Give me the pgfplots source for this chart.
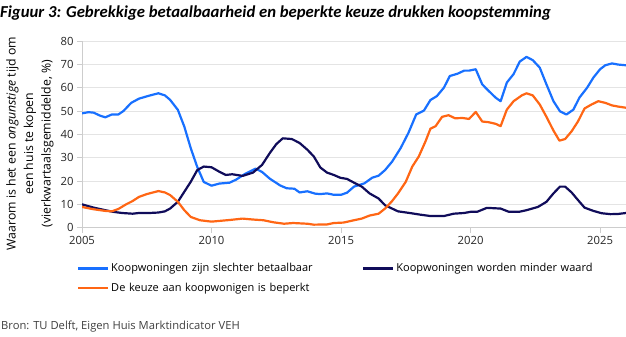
\documentclass[border=0pt]{standalone}
\usepackage{fontspec}
\setmainfont{Open Sans}
\newfontfamily\titlefont{Carlito}
\usepackage{pgfplots}
\pgfplotsset{compat=1.18}
\definecolor{cblue}{RGB}{24,112,255}
\definecolor{cnavy}{RGB}{16,12,90}
\definecolor{corange}{RGB}{255,102,20}
\definecolor{gridc}{RGB}{228,228,228}
\definecolor{axc}{RGB}{205,205,205}
\begin{document}
\begin{tikzpicture}[x=1pt,y=1pt]
\useasboundingbox (0,0) rectangle (626,337);
\begin{axis}[
  at={(82pt,109.3pt)}, anchor=south west,
  scale only axis, width=544pt, height=186.7pt,
  xmin=2005, xmax=2026, ymin=0, ymax=80,
  xtick={2005,2010,2015,2020,2025},
  ytick={0,10,...,80},
  /pgf/number format/assume math mode=true,
  xticklabel={\pgfmathprintnumber[1000 sep=]{\tick}},
  tick label style={font=\fontsize{11.3}{13}\selectfont, text=black!85},
  axis x line*=bottom, axis y line*=left,
  axis line style={axc, line width=0.8pt, -},
  tick style={axc, line width=0.8pt},
  tick align=outside, major tick length=5pt,
  ymajorgrids, grid style={gridc, line width=0.9pt},
  ylabel={Waarom is het een \textit{ongunstige} tijd om\\een huis te kopen\\(vierkwartaalsgemiddelde, \%)},
  ylabel style={align=center, font=\fontsize{12.3}{17.5}\selectfont, at={(axis description cs:-0.0956,0.45)}, anchor=center},
  legend columns=2,
  legend cell align=left,
  legend style={draw=none, fill=none, at={(axis description cs:-0.015,-0.17)}, anchor=north west,
    font=\fontsize{11}{13}\selectfont, row sep=5.5pt,
    /tikz/every even column/.append style={text width=249pt}},
  legend image code/.code={\draw[#1] (0pt,0pt) -- (30pt,0pt);},
  every axis plot/.append style={line width=2.2pt, line join=round},
]
\addplot[cblue] coordinates {
(2005.0,49) (2005.25,49.5) (2005.45,49.3) (2005.7,48) (2005.9,47.3) (2006.15,48.5) (2006.4,48.5) (2006.6,50) (2006.9,53.5) (2007.2,55.3) (2007.6,56.6) (2007.95,57.6) (2008.2,56.7) (2008.4,54.8) (2008.7,50.5) (2008.95,43.3) (2009.2,34) (2009.45,26) (2009.7,19.6) (2010.0,18) (2010.3,18.9) (2010.7,19.3) (2010.95,20.6) (2011.3,23.1) (2011.7,25.3) (2011.95,23.9) (2012.25,21) (2012.65,18.1) (2012.9,16.9) (2013.2,16.7) (2013.4,15.1) (2013.7,15.6) (2014.0,14.6) (2014.2,14.4) (2014.46,14.7) (2014.72,14.1) (2015.0,14.1) (2015.23,15) (2015.5,17.6) (2015.9,19) (2016.2,21.4) (2016.45,22.3) (2016.7,24.7) (2016.97,28.3) (2017.3,34.1) (2017.6,40.6) (2017.9,48.5) (2018.2,50.2) (2018.45,54.7) (2018.7,56.4) (2018.97,60) (2019.2,65) (2019.5,66) (2019.75,67.3) (2019.94,67.3) (2020.2,67.9) (2020.45,61.4) (2020.7,58.6) (2020.97,55.7) (2021.16,54.2) (2021.4,62.2) (2021.66,65.8) (2021.9,71.2) (2022.16,73.2) (2022.4,71.8) (2022.67,68.6) (2022.93,61.4) (2023.2,54.2) (2023.45,49.9) (2023.7,48.5) (2023.97,50.6) (2024.2,55.7) (2024.5,60) (2024.74,64.3) (2025.0,67.9) (2025.2,69.6) (2025.46,70.4) (2025.7,69.9) (2026.0,69.6)
};
\addlegendentry{Koopwoningen zijn slechter betaalbaar}
\addplot[cnavy] coordinates {
(2005.0,10) (2005.45,8.6) (2005.9,7.5) (2006.2,6.8) (2006.55,6.3) (2006.95,6) (2007.2,6.3) (2007.6,6.3) (2007.95,6.5) (2008.2,7) (2008.4,8.2) (2008.7,11.1) (2008.95,15.4) (2009.2,19.7) (2009.45,24.7) (2009.7,26.2) (2010.0,25.9) (2010.3,24) (2010.55,22.6) (2010.8,22.9) (2011.2,22.2) (2011.6,23.6) (2011.95,26.9) (2012.25,32) (2012.5,35.8) (2012.75,38.3) (2013.1,38) (2013.4,36.3) (2013.7,33.4) (2013.95,30.5) (2014.2,25.8) (2014.46,23.6) (2014.72,22.6) (2014.97,21.4) (2015.23,20.9) (2015.5,19.3) (2015.8,17.6) (2016.1,14.7) (2016.45,12.5) (2016.7,9.6) (2016.97,8.2) (2017.2,7) (2017.65,6.3) (2018.05,5.6) (2018.45,5) (2018.97,5) (2019.35,6) (2019.75,6.3) (2020.0,6.8) (2020.25,6.8) (2020.63,8.5) (2021.16,8.2) (2021.48,6.8) (2021.87,6.8) (2022.16,7.5) (2022.6,8.9) (2022.93,11.1) (2023.2,14.7) (2023.45,17.6) (2023.65,17.6) (2023.9,15.1) (2024.15,11.8) (2024.4,8.6) (2024.74,7.2) (2025.06,6.2) (2025.4,5.8) (2025.7,5.9) (2026.0,6.3)
};
\addlegendentry{Koopwoningen worden minder waard}
\addplot[corange] coordinates {
(2005.0,8.9) (2005.45,7.9) (2005.9,7.2) (2006.15,7) (2006.4,8) (2006.7,10) (2006.95,11.4) (2007.2,13.2) (2007.5,14.4) (2007.95,15.7) (2008.2,15.1) (2008.4,14) (2008.7,11.1) (2008.95,7.5) (2009.2,4.6) (2009.55,3.2) (2010.0,2.6) (2010.3,2.9) (2010.7,3.3) (2011.2,3.9) (2011.6,3.5) (2012.0,3.2) (2012.4,2.3) (2012.8,1.7) (2013.15,2) (2013.7,1.7) (2013.95,1.3) (2014.46,1.4) (2014.72,2) (2015.1,2.2) (2015.5,3.2) (2015.8,3.9) (2016.1,5.2) (2016.45,6) (2016.7,8.2) (2016.97,11.4) (2017.2,14.7) (2017.5,19.7) (2017.75,26.2) (2018.0,30.5) (2018.26,37) (2018.45,42.4) (2018.65,43.5) (2018.9,47.5) (2019.15,48.2) (2019.4,46.9) (2019.7,47) (2019.94,46.6) (2020.2,49.6) (2020.45,45.5) (2020.7,45.2) (2020.97,44.5) (2021.16,43.5) (2021.4,50.6) (2021.66,54.2) (2021.98,56.7) (2022.16,57.6) (2022.4,56.7) (2022.67,52.8) (2022.93,47.5) (2023.2,41.6) (2023.43,37.3) (2023.65,38) (2023.9,41.3) (2024.15,45.6) (2024.4,51.1) (2024.67,52.8) (2024.93,54.2) (2025.2,53.5) (2025.46,52.4) (2025.7,51.9) (2026.0,51.4)
};
\addlegendentry{De keuze aan koopwonigen is beperkt}
\end{axis}
\node[anchor=west, inner sep=0pt, font=\titlefont\fontsize{16.7}{18}\selectfont\bfseries\itshape] at (0,324) {Figuur 3: Gebrekkige betaalbaarheid en beperkte keuze drukken koopstemming};
\node[anchor=west, inner sep=0pt, font=\fontsize{11.2}{12}\selectfont, text=black!75] at (1,10) {Bron: TU Delft, Eigen Huis Marktindicator VEH};
\end{tikzpicture}
\end{document}
